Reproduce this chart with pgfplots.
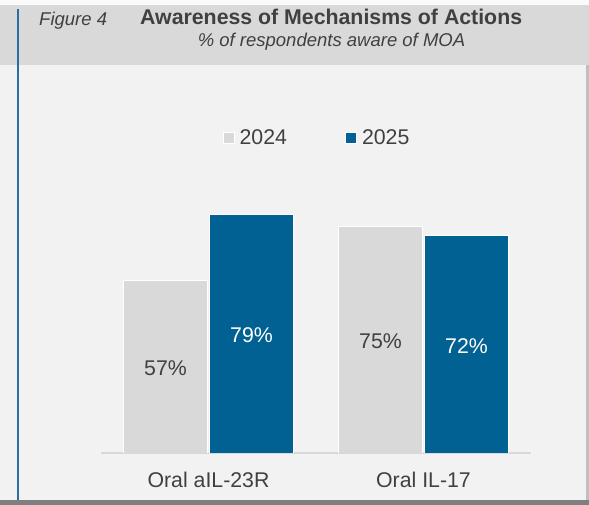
\documentclass[border=0pt]{standalone}
\usepackage{pgfplots}
\pgfplotsset{compat=1.18}
\usepackage{fontspec}
\setmainfont{Liberation Sans}
\definecolor{barGray}{HTML}{D9D9D9}
\definecolor{barBlue}{HTML}{006192}
\definecolor{panelBg}{HTML}{F2F2F2}
\definecolor{headBg}{HTML}{D9D9D9}
\definecolor{txt}{HTML}{404040}
\definecolor{lineBlue}{HTML}{2A6EA6}
\definecolor{shadowB}{HTML}{7F7F7F}
\definecolor{shadowR}{HTML}{BFBFBF}
\begin{document}
\begin{tikzpicture}[x=1pt,y=1pt]
\path[use as bounding box] (0,0) rectangle (589,505);
\fill[white!98!black] (0,0) rectangle (589,505);
\fill[headBg] (0,440) rectangle (589,500);
\fill[shadowR] (585.7,0) rectangle (589,440);
\fill[shadowB] (0,0) rectangle (589,4.5);
\fill[panelBg] (0,4.5) rectangle (585.7,440);
\draw[lineBlue, line width=1.6pt] (18,4.5) -- (18,496);
\node[anchor=base west, text=txt, font=\fontsize{18.5}{20}\selectfont\itshape, inner sep=0pt] at (39,479.3) {Figure 4};
\node[anchor=base west, text=txt, font=\fontsize{21.3}{24}\selectfont\bfseries, inner sep=0pt] at (140,480.5) {Awareness of Mechanisms of Actions};
\node[anchor=base, text=txt, font=\fontsize{18.5}{21}\selectfont\itshape, inner sep=0pt] at (331.5,458.3) {\% of respondents aware of MOA};
\begin{axis}[
  at={(101pt,52pt)}, anchor=south west,
  scale only axis, width=430pt, height=302pt,
  xmin=-0.5, xmax=1.5, ymin=0, ymax=100,
  ybar=2pt, bar width=84pt,
  axis x line*=bottom, axis y line=none,
  x axis line style={draw=barGray, line width=1.5pt, -},
  xtick={0,1}, xticklabels={Oral aIL-23R, Oral IL-17},
  major tick length=0pt,
  xticklabel style={text=txt, font=\fontsize{21.3}{24}\selectfont, anchor=base, inner sep=0pt, yshift=-34.3pt},
  /pgf/number format/assume math mode=true,
  visualization depends on={y \as \rawy},
  nodes near coords={\pgfmathprintnumber{\pgfplotspointmeta}\%},
  every node near coord/.append style={anchor=center, font=\fontsize{21.3}{24}\selectfont, inner sep=0pt, yshift={-(1.51*\rawy+1.5)*1pt}},
  legend columns=2,
  legend style={at={(0.5,1)}, anchor=center, yshift=13pt, draw=none, fill=none,
     font=\fontsize{21.3}{24}\selectfont, text=txt, nodes={inner sep=0pt},
     /tikz/every odd column/.append style={column sep=5pt},
     /tikz/every even column/.append style={column sep=58pt}},
  legend image code/.code={\draw[#1, draw=white, line width=1pt] (0pt,-5.5pt) rectangle (11pt,5.5pt);},
]
\addplot[fill=barGray, draw=white, line width=0.8pt, every node near coord/.append style={text=txt}] coordinates {(0,57) (1,75)};
\addplot[fill=barBlue, draw=white, line width=0.8pt, every node near coord/.append style={text=white}] coordinates {(0,79) (1,72)};
\legend{2024,2025}
\end{axis}
\end{tikzpicture}
\end{document}
